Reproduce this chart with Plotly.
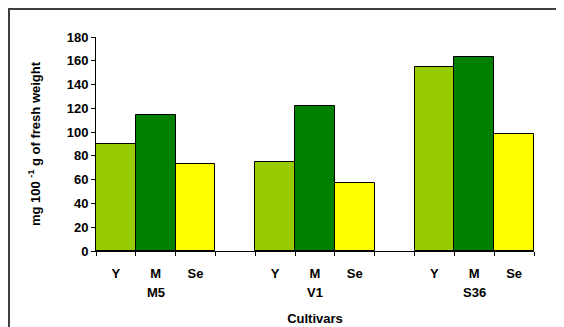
import plotly.graph_objects as go

cultivars = ["M5", "V1", "S36"]
stages = ["Y", "M", "Se"]
y_vals = [90, 75, 155]
m_vals = [114, 122, 163]
se_vals = [73, 57, 98]
colors = {"Y": "#99CC00", "M": "#008000", "Se": "#FFFF00"}

series = {"Y": y_vals, "M": m_vals, "Se": se_vals}
group_size = len(stages) + 1  # one empty slot between cultivars

fig = go.Figure()
for si, st in enumerate(stages):
    xs = [g * group_size + si + 0.5 for g in range(len(cultivars))]
    fig.add_trace(go.Bar(
        x=xs, y=series[st], width=1, name=st,
        marker=dict(color=colors[st], line=dict(color="black", width=1)),
        showlegend=False,
    ))

centers = [g * group_size + si + 0.5 for g in range(len(cultivars)) for si in range(len(stages))]
labels = [st for g in range(len(cultivars)) for st in stages]
bounds = sorted(set([g * group_size + k for g in range(len(cultivars)) for k in range(len(stages) + 1)]))
total = len(cultivars) * group_size - 1

font = dict(family="Liberation Sans, Arial, sans-serif", size=13, color="black")

# page body has an 8px margin, so the figure is sized/offset to compensate
fig.update_layout(
    width=556, height=319,
    margin=dict(l=88, r=30, t=29, b=76, autoexpand=False),
    paper_bgcolor="white", plot_bgcolor="white",
    font=font,
    bargap=0,
    xaxis=dict(
        range=[0, total], autorange=False, tickmode="array", tickvals=centers,
        ticktext=["<b>%s</b>" % l for l in labels],
        ticks="", showgrid=False, zeroline=False,
        showline=True, linecolor="black", linewidth=1,
        ticklabelstandoff=10,
        minor=dict(tickmode="array", tickvals=bounds, ticks="outside", ticklen=4,
                   tickcolor="black", showgrid=False),
        title=dict(text="<b>Cultivars</b>", standoff=34, font=font),
        fixedrange=True,
    ),
    yaxis=dict(
        range=[0, 180], autorange=False, tickmode="array", tickvals=list(range(0, 181, 20)),
        ticktext=["<b>%d</b>" % v for v in range(0, 181, 20)],
        ticks="outside", ticklen=4, tickcolor="black",
        showgrid=False, zeroline=False,
        showline=True, linecolor="black", linewidth=1,
        title=dict(text="<b>mg 100 <sup>-1</sup> g of fresh weight</b>", standoff=23, font=font),
    ),
)

for g, c in enumerate(cultivars):
    fig.add_annotation(
        x=g * group_size + 1.5, y=0, xref="x", yref="paper",
        xanchor="center", yanchor="middle",
        text="<b>%s</b>" % c, showarrow=False, yshift=-41, font=font,
    )

fig.add_shape(type="rect", xref="paper", yref="paper",
              x0=(9 - 96) / 438, x1=(600 - 96) / 438,
              y0=(251 - 340) / 214, y1=(251 - 9) / 214,
              line=dict(color="#404040", width=2), layer="below")

fig.write_html("out.html")
